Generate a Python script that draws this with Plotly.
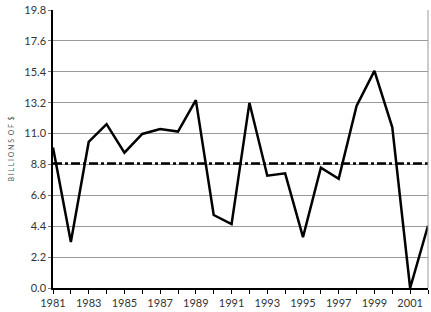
import plotly.graph_objects as go

years = list(range(1981, 2003))
values = [10.0, 3.27, 10.4, 11.67, 9.64, 10.97, 11.32, 11.14, 13.38, 5.2, 4.55,
          13.19, 8.0, 8.17, 3.62, 8.57, 7.78, 12.96, 15.46, 11.44, 0.0, 4.43]
average = 8.87
y_ticks = [0.0, 2.2, 4.4, 6.6, 8.8, 11.0, 13.2, 15.4, 17.6, 19.8]
x_tick_years = list(range(1981, 2003, 2))

fig = go.Figure()
fig.add_trace(go.Scatter(x=[years[0], years[-1]], y=[average, average], mode="lines",
                         line=dict(color="black", width=2.5, dash="dashdot"),
                         hoverinfo="skip", showlegend=False))
fig.add_trace(go.Scatter(x=years, y=values, mode="lines",
                         line=dict(color="black", width=2.5),
                         showlegend=False))

fig.update_layout(
    width=431, height=312,
    margin=dict(l=53, r=3, t=10, b=19),
    paper_bgcolor="white", plot_bgcolor="white",
    font=dict(family="Lato", color="#333333", size=11),
)
fig.update_xaxes(range=[1981, 2002], tickvals=x_tick_years,
                 ticktext=[str(y) for y in x_tick_years],
                 showgrid=False, zeroline=False,
                 showline=True, linecolor="black", linewidth=1.5,
                 ticks="outside", ticklen=4, tickcolor="black",
                 minor=dict(dtick=1, ticks="outside", ticklen=4, tickcolor="black"),
                 tickfont=dict(size=11, family="Lato", color="#333333"))
fig.update_yaxes(range=[0, 19.8], tickvals=y_ticks,
                 ticktext=[f"{v:.1f}" for v in y_ticks],
                 showgrid=True, gridcolor="#9a9a9a", gridwidth=1,
                 zeroline=False,
                 showline=True, linecolor="black", linewidth=1.5,
                 ticks="outside", ticklen=3, tickcolor="#777777",
                 tickfont=dict(size=11, family="Lato", color="#333333"),
                 title=dict(text="B I L L I O N S &nbsp;O F &nbsp;$",
                            font=dict(size=7, family="Lato", color="#555555"),
                            standoff=9))
# right frame line
fig.add_shape(type="line", xref="paper", yref="paper", x0=1, x1=1, y0=0, y1=1,
              line=dict(color="#9a9a9a", width=1))

fig.write_html("out.html")
